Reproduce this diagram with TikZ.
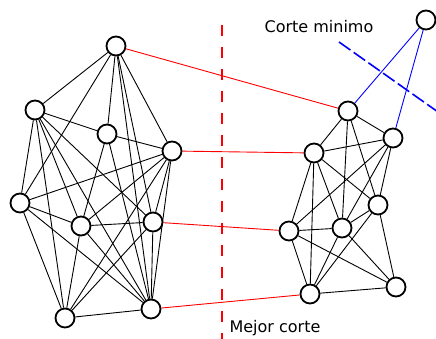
\documentclass[tikz,border=0pt]{standalone}
\usepackage{fontspec}
\setmainfont{DejaVu Sans}
\pgfdeclarelayer{edges}
\pgfsetlayers{edges,main}
\begin{document}
\begin{tikzpicture}[x=1pt,y=-1pt,
  vertex/.style={circle,draw=black,fill=white,line width=1.8pt,minimum size=19pt,inner sep=0pt},
  link/.style={black,line width=0.9pt},
  cutlink/.style={red,line width=0.9pt},
  minlink/.style={blue,line width=0.9pt},
  label/.style={font=\fontsize{16}{19}\selectfont,inner sep=0pt}]
\useasboundingbox (0,0) rectangle (436,339);

% left group
\node[vertex] (a) at (116,46) {};
\node[vertex] (b) at (35,110) {};
\node[vertex] (c) at (107,134) {};
\node[vertex] (d) at (172,151) {};
\node[vertex] (e) at (20,203) {};
\node[vertex] (f) at (81,226) {};
\node[vertex] (g) at (153,222) {};
\node[vertex] (h) at (65,318) {};
\node[vertex] (i) at (151,309) {};

% right group
\node[vertex] (p) at (348,111) {};
\node[vertex] (q) at (393,138) {};
\node[vertex] (r) at (314,153) {};
\node[vertex] (s) at (378,205) {};
\node[vertex] (t) at (289,231) {};
\node[vertex] (u) at (342,228) {};
\node[vertex] (v) at (310,294) {};
\node[vertex] (w) at (396,287) {};
\node[vertex] (x) at (426,20) {};

% labels
\node[label] (lmin) at (319,27) {Corte minimo};
\node[label] (lbest) at (275,328) {Mejor corte};

% cut lines
\coordinate (cutTop) at (222,25);
\coordinate (cutBot) at (222,339);
\coordinate (minA) at (339,42);
\coordinate (minB) at (438,112);

\begin{pgfonlayer}{edges}
  \foreach \u/\v in {a/b,a/c,a/d,a/e,a/g,a/i,
                     b/c,b/e,b/f,b/g,b/h,b/i,
                     c/d,c/f,c/i,
                     d/e,d/f,d/g,d/h,d/i,
                     e/f,e/h,e/i,
                     f/g,f/h,f/i,
                     g/h,g/i,h/i}
    \draw[link] (\u) -- (\v);
  \foreach \u/\v in {p/r,p/q,p/u,p/s,
                     r/q,r/t,r/v,r/u,r/s,
                     q/s,q/t,q/u,
                     s/u,s/v,s/w,
                     t/u,t/v,t/w,
                     u/v,u/w,v/w}
    \draw[link] (\u) -- (\v);
  \foreach \u/\v in {a/p,d/r,g/t,i/v}
    \draw[cutlink] (\u) -- (\v);
  \draw[minlink] (x) -- (p);
  \draw[minlink] (x) -- (q);
  \draw[red,line width=1.6pt,dash pattern=on 11pt off 11pt] (cutTop) -- (cutBot);
  \draw[blue,line width=1.6pt,dash pattern=on 14pt off 4pt] (minA) -- (minB);
\end{pgfonlayer}
\end{tikzpicture}
\end{document}
